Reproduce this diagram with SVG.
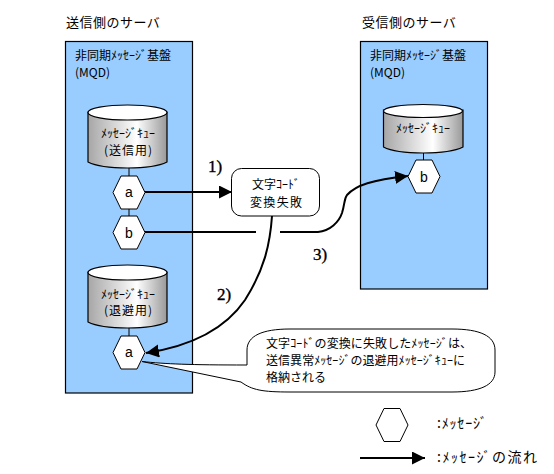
<svg xmlns="http://www.w3.org/2000/svg" width="554" height="474" viewBox="0 0 554 474">
<style>
text{font-family:"Noto Sans CJK JP","Noto Sans",sans-serif;font-size:12px;fill:#000}
.ttl{font-size:13px;letter-spacing:.5px}
.leg{font-size:14px}
.lat{font-family:"Liberation Sans",sans-serif;font-size:14px;text-anchor:middle}
.num{font-family:"Liberation Serif",serif;font-size:17px;stroke:#000;stroke-width:.35}
.mid{text-anchor:middle}
.panel{fill:#9cf;stroke:#000;stroke-width:1.2}
.cyl{fill:url(#g);stroke:#000;stroke-width:1.2}
.top{fill:#fff;stroke:#000;stroke-width:1.2}
.hex{fill:#fff;stroke:#000;stroke-width:1}
.thin{stroke:#000;stroke-width:1;fill:none}
.flow{stroke:#000;stroke-width:2;fill:none}
</style>
<defs>
<linearGradient id="g"><stop offset="0" stop-color="#a6a6a6"/><stop offset=".62" stop-color="#fff"/><stop offset="1" stop-color="#999"/></linearGradient>
<marker id="arr" markerUnits="userSpaceOnUse" markerWidth="14" markerHeight="14" refX="13" refY="6.5" orient="auto"><path d="M0 0L13 6.5L0 13Z" fill="#000"/></marker>
<polygon id="h" class="hex" points="-16,0 -8,-16.5 8,-16.5 16,0 8,16.5 -8,16.5"/>
</defs>
<g id="send-title"><text class="ttl" x="66" y="27">送信側のサーバ</text></g>
<g id="recv-title"><text class="ttl" x="362" y="27">受信側のサーバ</text></g>
<g id="send-panel"><rect class="panel" x="65.5" y="41.5" width="127" height="351.5"/><text x="75" y="60">非同期ﾒｯｾｰｼﾞ基盤</text><text x="75" y="77">(MQD)</text></g>
<g id="recv-panel"><rect class="panel" x="360.5" y="41.5" width="127" height="247.5"/><text x="370" y="60">非同期ﾒｯｾｰｼﾞ基盤</text><text x="370" y="77">(MQD)</text></g>
<g id="connectors">
<path class="thin" d="M129 168V176M129 209V216M129 328V336M423.500 153V160"/>
<path class="flow" d="M145 192H232" marker-end="url(#arr)"/>
<path class="flow" d="M145 232H256"/>
<path class="flow" d="M280 232H318C330 231 339 222 342 213C345 203 344 199 347 195C356 185 372 180 408 176" marker-end="url(#arr)"/>
<path class="flow" d="M272 216C270 245 264 270 245 300C228 325 198 345 146 353" marker-end="url(#arr)"/>
<path class="flow" d="M360 458H425" marker-end="url(#arr)"/>
</g>
<g id="queue-send"><path class="cyl" d="M88 112V162Q100 168 127.500 168Q155 168 167 162V112Z"/><ellipse class="top" cx="127.500" cy="112.500" rx="39.500" ry="7.500"/><text class="mid" x="128" y="138">ﾒｯｾｰｼﾞｷｭｰ</text><text class="mid" x="128" y="155" textLength="48">(送信用)</text></g>
<g id="queue-evac"><path class="cyl" d="M88 272V322Q100 328 127.500 328Q155 328 167 322V272Z"/><ellipse class="top" cx="127.500" cy="272.500" rx="39.500" ry="7.500"/><text class="mid" x="128" y="299">ﾒｯｾｰｼﾞｷｭｰ</text><text class="mid" x="128" y="315" textLength="48">(退避用)</text></g>
<g id="queue-recv"><path class="cyl" d="M383.500 110V147Q395 153 423 153Q451 153 463 147V110Z"/><ellipse class="top" cx="423" cy="111" rx="39.500" ry="6.500"/><text class="mid" x="423" y="133">ﾒｯｾｰｼﾞｷｭｰ</text></g>
<g id="msg-a1"><use href="#h" x="129" y="192.500"/><text class="lat" x="129" y="197">a</text></g>
<g id="msg-b1"><use href="#h" x="129" y="232.500"/><text class="lat" x="129" y="238">b</text></g>
<g id="msg-a2"><use href="#h" x="129" y="352.500"/><text class="lat" x="129" y="357">a</text></g>
<g id="msg-b2"><use href="#h" x="424" y="176.500"/><text class="lat" x="424" y="182">b</text></g>
<g id="convert-fail"><rect x="231.500" y="168.500" width="88" height="47.500" rx="10" fill="#fff" stroke="#000"/><text class="mid" x="276" y="189">文字ｺｰﾄﾞ</text><text class="mid" x="276" y="207" textLength="52">変換失敗</text></g>
<g id="callout"><path d="M142 361.500C165 364 190 365 247 365V350C247 336 262 329 290 329H452C480 329 495 336 495 350V372C495 385 480 392 452 392H290C262 392 252 390 241 382Z" fill="#fff" stroke="#000"/><text x="266" y="348" textLength="206">文字ｺｰﾄﾞの変換に失敗したﾒｯｾｰｼﾞは、</text><text x="266" y="365" textLength="199">送信異常ﾒｯｾｰｼﾞの退避用ﾒｯｾｰｼﾞｷｭｰに</text><text x="266" y="382">格納される</text></g>
<g id="label-1"><text class="num" x="208" y="172">1)</text></g>
<g id="label-2"><text class="num" x="217" y="300">2)</text></g>
<g id="label-3"><text class="num" x="313" y="260">3)</text></g>
<g id="legend-msg"><use href="#h" x="392" y="425"/><text class="leg" x="437" y="428" textLength="50">:ﾒｯｾｰｼﾞ</text></g>
<g id="legend-flow"><text class="leg" x="437" y="462" textLength="100">:ﾒｯｾｰｼﾞの流れ</text></g>
</svg>
